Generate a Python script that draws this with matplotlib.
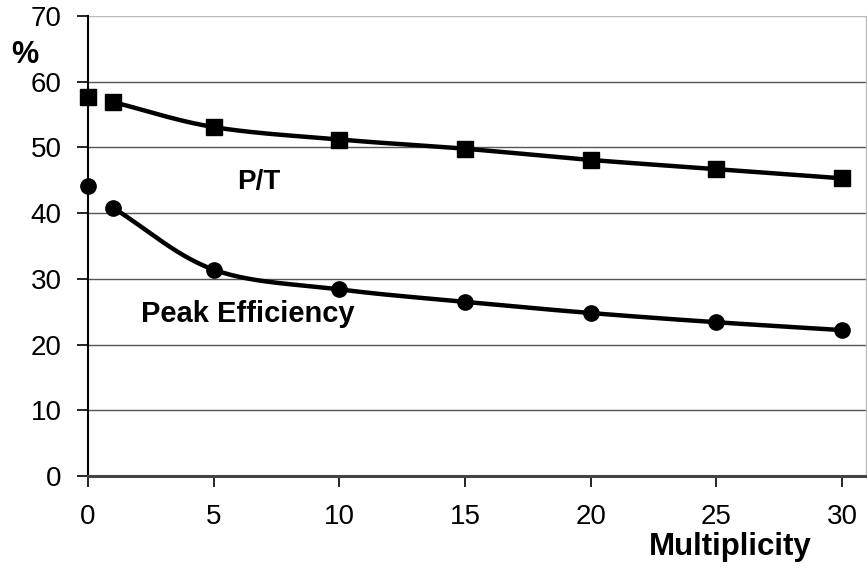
import numpy as np
import matplotlib
matplotlib.use("Agg")
import matplotlib.pyplot as plt

# data
mult = [0, 1, 5, 10, 15, 20, 25, 30]
p_to_t = [57.7, 56.9, 53.1, 51.2, 49.8, 48.1, 46.7, 45.3]
peak_eff = [44.1, 40.8, 31.4, 28.4, 26.5, 24.8, 23.4, 22.2]
x_ticks = [0, 5, 10, 15, 20, 25, 30]
y_ticks = [0, 10, 20, 30, 40, 50, 60, 70]


def smooth(xs, ys, n=30):
    # Catmull-Rom style curve through the points (like Excel "smoothed line")
    xs = np.asarray(xs, float)
    ys = np.asarray(ys, float)
    px = np.concatenate([[2 * xs[0] - xs[1]], xs, [2 * xs[-1] - xs[-2]]])
    py = np.concatenate([[2 * ys[0] - ys[1]], ys, [2 * ys[-1] - ys[-2]]])
    outx, outy = [], []
    t = np.linspace(0, 1, n)
    for i in range(1, len(px) - 2):
        p0, p1, p2, p3 = (np.array([px[j], py[j]]) for j in range(i - 1, i + 3))
        c1 = p1 + (p2 - p0) / 6
        c2 = p2 - (p3 - p1) / 6
        b = ((1 - t) ** 3)[:, None] * p1 + (3 * (1 - t) ** 2 * t)[:, None] * c1 \
            + (3 * (1 - t) * t ** 2)[:, None] * c2 + (t ** 3)[:, None] * p2
        outx.extend(b[:, 0])
        outy.extend(b[:, 1])
    return outx, outy


plt.rcParams['font.family'] = ['Liberation Sans', 'DejaVu Sans']

W, H = 867, 569
fig = plt.figure(figsize=(W / 100, H / 100), dpi=100)
ax = fig.add_axes([88 / W, 1 - 476 / H, (866 - 88) / W, (476 - 16) / H])

ax.set_xlim(0, 30 * (866 - 88) / (842 - 88))
ax.set_ylim(0, 70)

for y in y_ticks[1:]:
    ax.axhline(y, color='#bbbbbb' if y == 70 else '#555555', lw=1.0, zorder=1)

# lines start at multiplicity 1, the 0 point is a lone marker
sx, sy = smooth(mult[1:], p_to_t[1:])
ax.plot(sx, sy, color='black', lw=3.2, zorder=3, solid_capstyle='butt')
sx, sy = smooth(mult[1:], peak_eff[1:])
ax.plot(sx, sy, color='black', lw=3.2, zorder=3, solid_capstyle='butt')
ax.plot(mult, p_to_t, ls='none', marker='s', ms=11.5, color='black', zorder=4, clip_on=False)
ax.plot(mult, peak_eff, ls='none', marker='o', ms=11, color='black', zorder=4, clip_on=False)

ax.set_xticks(x_ticks)
ax.set_yticks(y_ticks)
ax.tick_params(axis='both', direction='out', length=8, width=1.2, labelsize=20, colors='black')
ax.tick_params(axis='x', pad=12)
ax.tick_params(axis='y', pad=11)

ax.spines['left'].set_linewidth(1.5)
ax.spines['bottom'].set_linewidth(2.2)
ax.spines['bottom'].set_color('#444444')
ax.spines['top'].set_visible(False)
ax.spines['right'].set_color('#bbbbbb')
ax.spines['right'].set_linewidth(1.0)

fig.text(11 / W, 1 - 63 / H, '%', fontsize=22, fontweight='bold', va='baseline', ha='left')
fig.text(812 / W, 1 - 555 / H, 'Multiplicity', fontsize=22.5, fontweight='bold', va='baseline', ha='right')
fig.text(237 / W, 1 - 189 / H, 'P/T', fontsize=20, fontweight='bold', va='baseline', ha='left')
fig.text(141 / W, 1 - 322 / H, 'Peak Efficiency', fontsize=21, fontweight='bold', va='baseline', ha='left')

fig.savefig('out.png', dpi=100)
